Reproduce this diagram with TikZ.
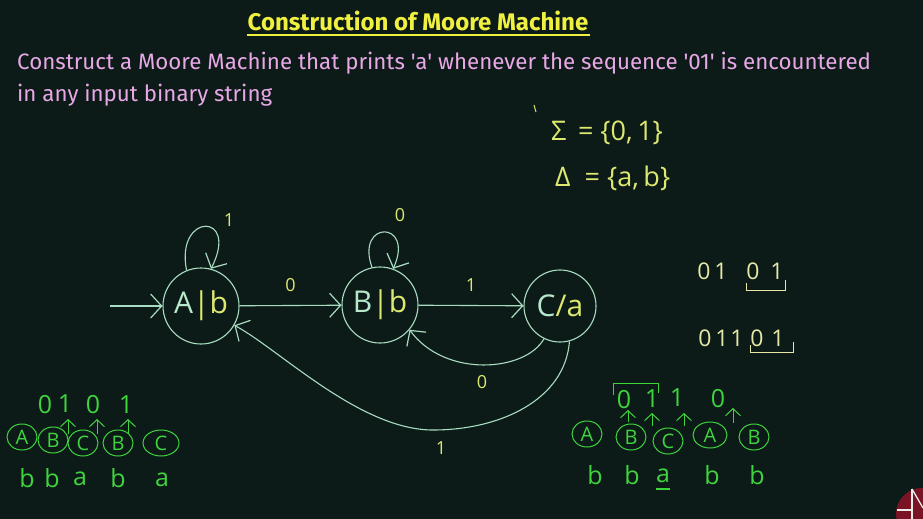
\documentclass[tikz,border=0pt]{standalone}
\usepackage{fontspec}
\newfontfamily\titlefont{Fira Sans}
\newfontfamily\handfont{Open Sans}
\usetikzlibrary{arrows.meta,shapes.geometric}
\definecolor{bg}{HTML}{0D1B18}
\definecolor{edgec}{HTML}{A8DCC0}
\definecolor{namec}{HTML}{B8E8CC}
\definecolor{labc}{HTML}{DDE870}
\definecolor{pinkc}{HTML}{E8A8E6}
\definecolor{titlec}{HTML}{F0F040}
\definecolor{hgreen}{HTML}{3ED43E}
\definecolor{numc}{HTML}{E6E8A8}
\definecolor{logoc}{HTML}{7A1424}
\tikzset{
  state/.style={circle, draw=edgec, line width=1.1pt, minimum size=76pt, inner sep=0pt,
    font=\handfont\fontsize{30}{32}\selectfont},
  tr/.style={draw=edgec, line width=1.1pt, -{Straight Barb[length=11pt,width=24pt,line width=1.2pt]}},
  lab/.style={text=labc, font=\handfont\fontsize{18}{20}\selectfont, inner sep=0pt},
  mini/.style={ellipse, draw=hgreen, line width=1pt, text=hgreen, inner sep=0pt,
    minimum width=30pt, minimum height=26pt, font=\handfont\fontsize{20}{22}\selectfont},
  hg/.style={text=hgreen, font=\handfont\fontsize{25}{27}\selectfont, inner sep=0pt},
  up/.style={draw=hgreen, line width=1pt, -{Straight Barb[length=7pt,width=15pt,line width=1pt]}},
  numtxt/.style={text=numc, font=\handfont\fontsize{23}{26}\selectfont, inner sep=0pt},
  settxt/.style={text=labc, font=\handfont\fontsize{27}{29}\selectfont, inner sep=0pt, anchor=west}
}
\begin{document}
\begin{tikzpicture}[x=1pt,y=-1pt]
\fill[bg] (0,0) rectangle (923,519);
\useasboundingbox (0,0) rectangle (923,519);

% title
\node[text=titlec, font=\titlefont\bfseries\fontsize{24}{28}\selectfont, inner sep=0pt] (title) at (418,21) {Construction of Moore Machine};
\draw[titlec, line width=1.5pt] (247,35) -- (590,35);

% problem statement
\node[text=pinkc, font=\titlefont\fontsize{22.3}{26}\selectfont, anchor=west, inner sep=0pt] (q1) at (17,63) {Construct a Moore Machine that prints 'a' whenever the sequence '01' is encountered};
\node[text=pinkc, font=\titlefont\fontsize{22.3}{26}\selectfont, anchor=west, inner sep=0pt] (q2) at (17,95) {in any input binary string};

% alphabets
\draw[labc, line width=1pt] (534,105) -- (536,112);
\node[settxt] (sig) at (551,133) {Σ\,\ =\ \{0,\,1\}};
\node[settxt] (del) at (555,178) {Δ\ \ =\ \{a,\,b\}};

% states
\node[state] (A) at (201,306) {\textcolor{namec}{A}\textcolor{labc}{|b}};
\node[state] (B) at (380,305) {\textcolor{namec}{B}\textcolor{labc}{|b}};
\node[state, minimum size=72pt] (C) at (560,306) {\textcolor{namec}{C}\textcolor{labc}{/a}};
\coordinate (start) at (110,306);

\draw[tr] (start) -- (A);
\draw[tr] (A) -- node[lab, above=13pt] {0} (B);
\draw[tr] (B) -- node[lab, above=13pt] {1} (C);
\draw[tr] (A.112) .. controls (175,212) and (240,212) .. (A.75);
\draw[tr] (B.102) .. controls (355,220) and (415,220) .. (B.70);
\node[lab] (l1) at (229,220) {1};
\node[lab] (l0) at (400,215) {0};
\draw[tr] (C.-116) .. controls (525,372) and (445,378) .. (B.-40);
\node[lab] (l2) at (482,382) {0};
\draw[tr] (C.-75) .. controls (565,400) and (500,430) .. (433,430) .. controls (360,430) and (280,350) .. (A.-30);
\node[lab] (l3) at (441,448) {1};

% right side sequences
\node[numtxt] (r1) at (704,271) {0};
\node[numtxt] (r2) at (721,271) {1};
\node[numtxt] (r3) at (753,271) {0};
\node[numtxt] (r4) at (777,271) {1};
\draw[numc, line width=1pt] (746,283) -- (746,290) -- (785,290) -- (785,280);
\node[numtxt] (t1) at (705,338) {0};
\node[numtxt] (t2) at (722,338) {1};
\node[numtxt] (t3) at (737,338) {1};
\node[numtxt] (t4) at (757,338) {0};
\node[numtxt] (t5) at (778,338) {1};
\draw[numc, line width=1pt] (750,345) -- (750,352) -- (793,352) -- (793,342);

% bottom left trace
\node[hg] (d1) at (45,405) {0};
\node[hg] (d2) at (65,404) {1};
\node[hg] (d3) at (93,405) {0};
\node[hg] (d4) at (126,405) {1};
\node[mini] (a1) at (22,437) {A};
\node[mini] (a2) at (53,440) {B};
\node[mini] (a3) at (83,443) {C};
\node[mini] (a4) at (118,443) {B};
\node[mini, minimum width=36pt] (a5) at (161,443) {C};
\coordinate (u1a) at (68,434); \coordinate (u1b) at (68,419);
\coordinate (u2a) at (97,434); \coordinate (u2b) at (97,419);
\coordinate (u3a) at (128,434); \coordinate (u3b) at (128,419);
\draw[up] (u1a) -- (u1b);
\draw[up] (u2a) -- (u2b);
\draw[up] (u3a) -- (u3b);
\node[hg] (o1) at (27,478) {b};
\node[hg] (o2) at (52,478) {b};
\node[hg] (o3) at (80,479) {a};
\node[hg] (o4) at (118,478) {b};
\node[hg] (o5) at (162,480) {a};

% bottom right trace
\draw[hgreen, line width=1pt] (613,395) -- (613,383) -- (658,383) -- (658,393);
\node[hg] (e1) at (624,400) {0};
\node[hg] (e2) at (652,399) {1};
\node[hg] (e3) at (677,398) {1};
\node[hg] (e4) at (718,399) {0};
\node[mini] (b1) at (587,434) {A};
\node[mini] (b2) at (631,437) {B};
\node[mini] (b3) at (668,441) {C};
\node[mini, minimum width=34pt] (b4) at (710,435) {A};
\node[mini] (b5) at (754,437) {B};
\coordinate (v1a) at (628,422); \coordinate (v1b) at (628,410);
\coordinate (v2a) at (652,426); \coordinate (v2b) at (652,413);
\coordinate (v3a) at (684,426); \coordinate (v3b) at (684,413);
\coordinate (v4a) at (733,423); \coordinate (v4b) at (733,408);
\draw[up] (v1a) -- (v1b);
\draw[up] (v2a) -- (v2b);
\draw[up] (v3a) -- (v3b);
\draw[up] (v4a) -- (v4b);
\node[hg] (p1) at (595,475) {b};
\node[hg] (p2) at (632,475) {b};
\node[hg] (p3) at (663,476) {a};
\node[hg] (p4) at (712,475) {b};
\node[hg] (p5) at (757,475) {b};
\draw[hgreen, line width=2pt] (656,489) -- (670,489);

% logo in corner
\fill[logoc] (922,514) circle (26);
\draw[white!85!gray, line width=1.3pt] (912,489) -- (912,519);
\draw[white!85!gray, line width=1.3pt] (912,489) -- (923,508);
\draw[white!85!gray, line width=1.3pt] (897,510) -- (912,510);
\end{tikzpicture}
\end{document}
